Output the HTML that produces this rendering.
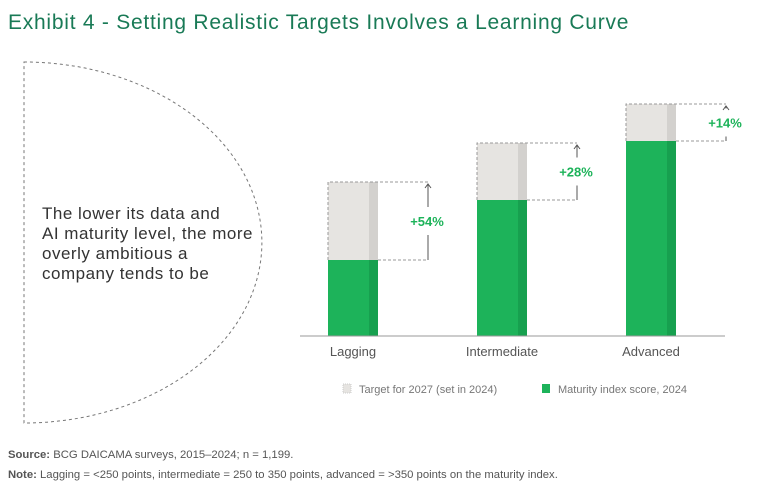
<!DOCTYPE html>
<html><head><meta charset="utf-8"><style>
body{margin:0;width:768px;height:492px;background:#fff;overflow:hidden;font-family:"Liberation Sans",sans-serif;}
svg{position:absolute;left:0;top:0}
</style></head><body>
<svg width="768" height="492" id="chart">
<text x="8" y="29" font-size="21" letter-spacing="0.75" fill="#197a56">Exhibit 4 - Setting Realistic Targets Involves a Learning Curve</text>
<path d="M24,62 A238,180.5 0 0 1 24,423 Z" fill="none" stroke="#777" stroke-width="1" stroke-dasharray="3,3"/>
<g font-size="17" letter-spacing="0.5" fill="#333">
<text x="42" y="219">The lower its data and</text>
<text x="42" y="239">AI maturity level, the more</text>
<text x="42" y="259">overly ambitious a</text>
<text x="42" y="279">company tends to be</text>
</g>
<g id="bars"></g>
<line x1="300" y1="336" x2="725" y2="336" stroke="#999" stroke-width="1"/>
<g>
<rect x="343" y="384" width="8" height="9" fill="#e6e4e1" stroke="#ccc" stroke-dasharray="1,1"/>
<text x="359" y="393" font-size="11" fill="#777">Target for 2027 (set in 2024)</text>
<rect x="542" y="384" width="8" height="9" fill="#1db35a"/>
<text x="558" y="393" font-size="11" fill="#777">Maturity index score, 2024</text>
</g>
<text x="8" y="458" font-size="11.3" fill="#555"><tspan font-weight="bold">Source:</tspan> BCG DAICAMA surveys, 2015–2024; n = 1,199.</text>
<text x="8" y="478" font-size="11.3" fill="#555"><tspan font-weight="bold">Note:</tspan> Lagging = &lt;250 points, intermediate = 250 to 350 points, advanced = &gt;350 points on the maturity index.</text>
</svg>
<script>
const categories=["Lagging","Intermediate","Advanced"];
const maturity=[76,136,195];
const target=[154,193,232];
const growthLabels=["+54%","+28%","+14%"];
const NS="http://www.w3.org/2000/svg";
const base=336, x0=328, step=149, bw=50;
function y(v){return base-v;}
function xc(i){return x0+i*step;}
const g=document.getElementById('bars');
function mk(t,a,p){const e=document.createElementNS(NS,t);for(const k in a)e.setAttribute(k,a[k]);(p||g).appendChild(e);return e;}
categories.forEach((c,i)=>{
 const x=xc(i), yt=y(target[i]), ym=y(maturity[i]);
 const grp=mk('g',{});
 
 
 const tr=mk('rect',{x:x,y:yt,width:bw,height:ym-yt,fill:'#e6e4e1'},grp);
 
 
 mk('rect',{x:x+bw-9,y:yt,width:9,height:ym-yt,fill:'#d3d1ce'},grp);
 const mr=mk('rect',{x:x,y:ym,width:bw,height:base-ym,fill:'#1db35a'},grp);
 
 
 mk('rect',{x:x+bw-9,y:ym,width:9,height:base-ym,fill:'#17a04f'},grp);
 const xr=x+bw+50;
 mk('path',{d:`M${x},${ym} L${x},${yt} L${xr},${yt} M${x+bw},${ym} L${xr},${ym}`,fill:'none',stroke:'#999','stroke-dasharray':'3,2','stroke-width':1},grp);
 const mid=(yt+ym)/2;
 const gap=Math.min(14,(ym-yt)/2-4);
 mk('path',{d:`M${xr},${yt+2} L${xr},${mid-gap} M${xr},${mid+gap} L${xr},${ym} M${xr-3},${yt+6} L${xr},${yt+2} L${xr+3},${yt+6}`,fill:'none',stroke:'#555','stroke-width':1},grp);
 const lt=mk('text',{x:xr-1,y:mid+5,'font-size':13,'font-weight':'bold',fill:'#1db35a','text-anchor':'middle'},grp);
 lt.textContent=growthLabels[i];
 
 
 const ct=mk('text',{x:x+bw/2,y:356,'font-size':13,fill:'#555','text-anchor':'middle'},grp);
 ct.textContent=c;
 
 
});
</script>
</body></html>
